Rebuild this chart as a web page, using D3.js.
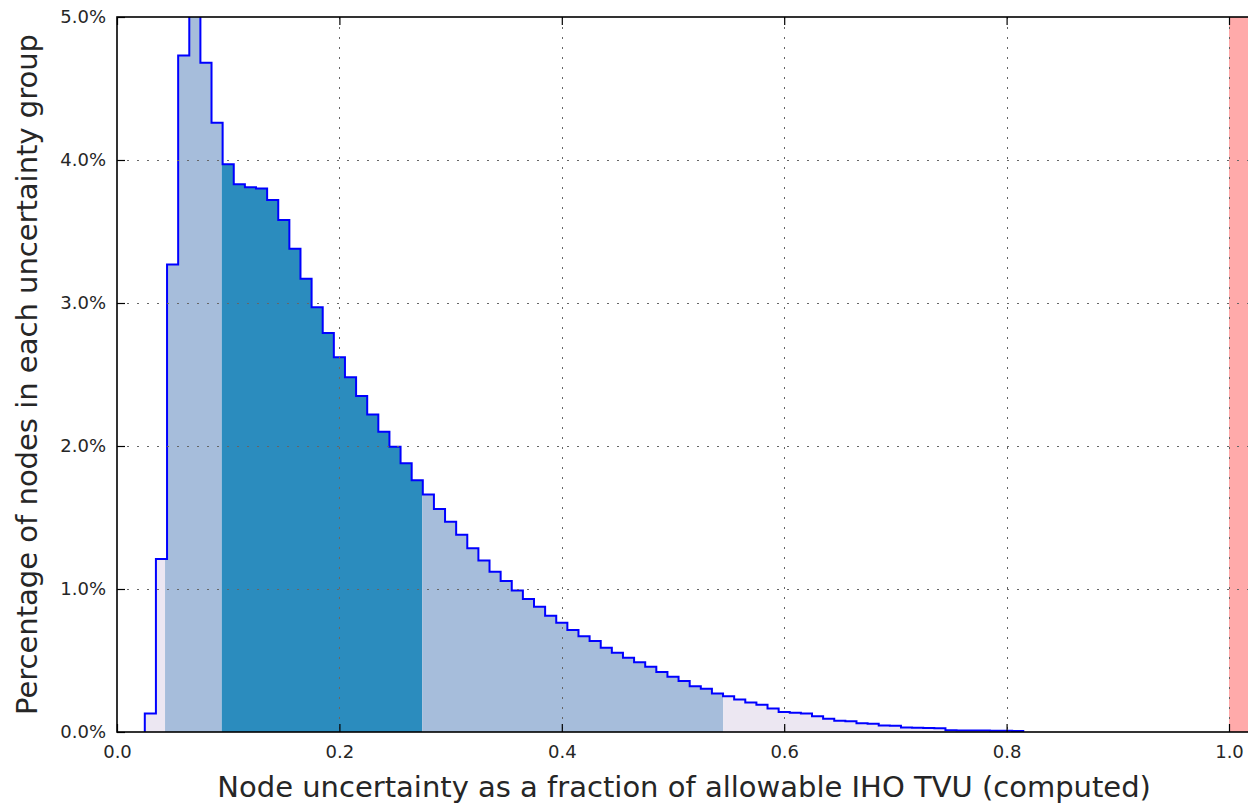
<!DOCTYPE html>
<html>
<head>
<meta charset="utf-8">
<script src="https://cdn.jsdelivr.net/npm/d3@7"></script>
<style>
  body { margin: 0; background: #fff; }
  svg { display: block; font-family: "DejaVu Sans", sans-serif; }
</style>
</head>
<body>
<script>
// histogram: 79 bins of width 0.01 starting at 0.025, heights in percent
const binStart = 0.025;
const binWidth = 0.01;
const binPercent = [
  0.13, 1.21, 3.27, 4.73, 5.30, 4.68, 4.26, 3.97, 3.83, 3.81,
  3.80, 3.72, 3.58, 3.38, 3.17, 2.97, 2.79, 2.62, 2.48, 2.35,
  2.22, 2.10, 1.995, 1.88, 1.76, 1.66, 1.56, 1.47, 1.38, 1.285,
  1.20, 1.12, 1.056, 0.99, 0.93, 0.876, 0.813, 0.764, 0.713, 0.67,
  0.636, 0.59, 0.555, 0.52, 0.487, 0.457, 0.42, 0.387, 0.357, 0.32,
  0.303, 0.27, 0.25, 0.228, 0.207, 0.19, 0.165, 0.14, 0.135, 0.13,
  0.11, 0.093, 0.078, 0.075, 0.062, 0.058, 0.045, 0.043, 0.032, 0.030,
  0.028, 0.027, 0.012, 0.011, 0.010, 0.010, 0.009, 0.008, 0.007
];

// shaded bands under the histogram (lower, upper, colour)
const bandEdges = [0.025, 0.0432, 0.0942, 0.2745, 0.5452, 0.815];
const bandColors = ["#ece7f2", "#a6bddb", "#2b8cbe", "#a6bddb", "#ece7f2"];

// red span past the allowable limit
const limitSpan = [1.0, 1.02];

const xTicks = [0.0, 0.2, 0.4, 0.6, 0.8, 1.0];
const yTicks = [0, 1, 2, 3, 4, 5];

const xLabel = "Node uncertainty as a fraction of allowable IHO TVU (computed)";
const yLabel = "Percentage of nodes in each uncertainty group";

const W = 1248, H = 804;
const mLeft = 117, mTop = 17, mBottom = 732;

const x = d3.scaleLinear().domain([0, 1.02]).range([mLeft, mLeft + 1112 * 1.02]);
const y = d3.scaleLinear().domain([0, 5]).range([mBottom, mTop]);

const svg = d3.select("body").append("svg")
  .attr("width", W)
  .attr("height", H);

svg.append("clipPath").attr("id", "plot")
  .append("rect")
  .attr("x", x(0)).attr("y", y(5))
  .attr("width", x(1.02) - x(0)).attr("height", y(0) - y(5));

const plot = svg.append("g").attr("clip-path", "url(#plot)");

const edges = binPercent.map((d, i) => binStart + i * binWidth);
const lastEdge = binStart + binPercent.length * binWidth;

function heightAt(v) {
  let i = Math.floor((v - binStart) / binWidth + 1e-9);
  i = Math.max(0, Math.min(binPercent.length - 1, i));
  return binPercent[i];
}

// filled bands
const area = d3.area()
  .curve(d3.curveStepAfter)
  .x(d => x(d[0]))
  .y0(y(0))
  .y1(d => y(d[1]));

bandColors.forEach((c, k) => {
  let a = bandEdges[k], b = bandEdges[k + 1];
  let pts = [[a, heightAt(a)]];
  edges.forEach((e, i) => {
    if (e > a + 1e-9 && e < b - 1e-9) pts.push([e, binPercent[i]]);
  });
  pts.push([b, pts[pts.length - 1][1]]);
  plot.append("path")
    .attr("d", area(pts))
    .attr("fill", c);
});

// limit span
plot.append("rect")
  .attr("x", x(limitSpan[0]))
  .attr("y", y(5))
  .attr("width", x(limitSpan[1]) - x(limitSpan[0]))
  .attr("height", y(0) - y(5))
  .attr("fill", "#ffaaaa");

// step outline
let stepPts = [[binStart, 0]];
binPercent.forEach((h, i) => stepPts.push([edges[i], h]));
stepPts.push([lastEdge, 0]);

plot.append("path")
  .attr("d", d3.line().curve(d3.curveStepAfter).x(d => x(d[0])).y(d => y(d[1]))(stepPts))
  .attr("fill", "none")
  .attr("stroke", "#0000ff")
  .attr("stroke-width", 2);

// grid
const grid = svg.append("g")
  .attr("stroke", "#666")
  .attr("stroke-width", 1)
  .attr("stroke-dasharray", "2,8");

grid.selectAll(".gx").data(xTicks.filter(d => d > 0)).enter()
  .append("line")
  .attr("x1", d => Math.round(x(d)) + 0.5).attr("x2", d => Math.round(x(d)) + 0.5)
  .attr("y1", y(5)).attr("y2", y(0));

grid.selectAll(".gy").data(yTicks.filter(d => d > 0 && d < 5)).enter()
  .append("line")
  .attr("y1", d => Math.round(y(d)) + 0.5).attr("y2", d => Math.round(y(d)) + 0.5)
  .attr("x1", x(0)).attr("x2", x(1.02));

// axes, ticks pointing inward
const yAxis = d3.axisLeft(y)
  .tickValues(yTicks)
  .tickFormat(d => d.toFixed(1) + "%")
  .tickSize(-8)
  .tickPadding(11);

const xAxis = d3.axisBottom(x)
  .tickValues(xTicks)
  .tickFormat(d3.format(".1f"))
  .tickSize(-8)
  .tickPadding(13);

const xTop = d3.axisTop(x)
  .tickValues(xTicks)
  .tickFormat("")
  .tickSize(-8);

function style(g) {
  g.select(".domain").remove();
  g.selectAll("line").attr("stroke", "#000").attr("stroke-width", 1.2);
  g.selectAll("text")
    .attr("fill", "#262626")
    .style("font-size", "18px")
    .style("font-family", "DejaVu Sans, sans-serif");
}

svg.append("g").attr("transform", `translate(${mLeft},0)`).call(yAxis).call(style);
svg.append("g").attr("transform", `translate(0,${mBottom})`).call(xAxis).call(style);
svg.append("g").attr("transform", `translate(0,${mTop})`).call(xTop).call(style);

// frame
svg.append("rect")
  .attr("x", x(0)).attr("y", y(5))
  .attr("width", x(1.02) - x(0)).attr("height", y(0) - y(5))
  .attr("fill", "none")
  .attr("stroke", "#000")
  .attr("stroke-width", 1.6);

// labels
svg.append("text")
  .attr("x", (x(0) + x(1.02)) / 2)
  .attr("y", 797)
  .attr("text-anchor", "middle")
  .attr("fill", "#262626")
  .style("font-size", "29px")
  .text(xLabel);

svg.append("text")
  .attr("transform", `translate(37,${(y(0) + y(5)) / 2}) rotate(-90)`)
  .attr("text-anchor", "middle")
  .attr("fill", "#262626")
  .style("font-size", "29px")
  .text(yLabel);
</script>
</body>
</html>
